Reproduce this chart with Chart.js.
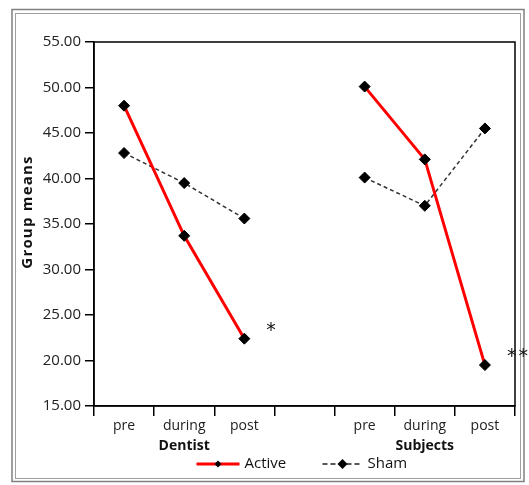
<!DOCTYPE html>
<html>
<head>
<meta charset="utf-8">
<title>Group means</title>
<script src="https://cdn.jsdelivr.net/npm/chart.js@4.4.1/dist/chart.umd.min.js"></script>
<style>
    html, body { margin: 0; padding: 0; background: #fff; }
    #wrap { width: 529px; height: 485px; }
</style>
</head>
<body>
<div id="wrap"><canvas id="chart" width="529" height="485"></canvas></div>
<script>
// values
const categories = ['pre', 'during', 'post', '', 'pre', 'during', 'post'];
const activeMeans = [48.0, 33.7, 22.4, null, 50.1, 42.1, 19.5];
const shamMeans = [42.8, 39.5, 35.6, null, 40.1, 37.0, 45.5];
const groupNames = ['Dentist', 'Subjects'];
const groupCenterIndex = [1, 5];
const sigIndex = [2, 6];
const sigMarks = ['*', '**'];

const FONT = '"Open Sans", "DejaVu Sans", sans-serif';

const extras = {
    id: 'extras',
    beforeDraw(chart) {
        const c = chart.ctx;
        c.save();
        c.fillStyle = '#fff';
        c.fillRect(0, 0, chart.width, chart.height);
        c.restore();
    },
    afterDraw(chart) {
        const c = chart.ctx;
        const a = chart.chartArea;
        const x = chart.scales.x;
        const y = chart.scales.y;
        c.save();

        // double frame
        c.strokeStyle = '#808080';
        c.lineWidth = 1.5;
        c.strokeRect(12, 9.5, 512, 472);
        c.strokeStyle = '#a0a0a0';
        c.lineWidth = 1;
        c.strokeRect(15.5, 13.5, 505, 465);

        // closed plot box
        c.strokeStyle = '#000';
        c.lineWidth = 1.5;
        c.strokeRect(a.left, a.top, a.right - a.left, a.bottom - a.top);

        // y title
        c.fillStyle = '#111';
        c.font = 'bold 15px ' + FONT;
        c.letterSpacing = '1.2px';
        c.textAlign = 'center';
        c.textBaseline = 'middle';
        c.translate(28, 212);
        c.rotate(-Math.PI / 2);
        c.fillText('Group means', 0, 0);
        c.setTransform(1, 0, 0, 1, 0, 0);
        c.letterSpacing = '0px';

        // group labels
        c.font = 'bold 14px ' + FONT;
        groupNames.forEach((g, i) => {
            c.fillText(g, x.getPixelForValue(groupCenterIndex[i]), a.bottom + 40);
        });

        // significance marks beside the active post values
        c.font = '19px "DejaVu Sans", sans-serif';
        c.letterSpacing = '2px';
        c.textAlign = 'left';
        sigIndex.forEach((idx, i) => {
            const px = x.getPixelForValue(idx);
            const py = y.getPixelForValue(activeMeans[idx]);
            c.fillText(sigMarks[i], px + 22, py - 8);
        });
        c.letterSpacing = '0px';

        // legend
        const ly = a.bottom + 58;
        const cx = (a.left + a.right) / 2;
        const items = [
            { x0: cx - 108, x1: cx - 65, color: '#ff0000', width: 3, dash: [], r: 3.5, label: 'Active' },
            { x0: cx + 18, x1: cx + 58, color: '#222', width: 1.3, dash: [5, 3], r: 5, label: 'Sham' }
        ];
        items.forEach(it => {
            c.strokeStyle = it.color;
            c.lineWidth = it.width;
            c.setLineDash(it.dash);
            c.beginPath();
            c.moveTo(it.x0, ly);
            c.lineTo(it.x1, ly);
            c.stroke();
            c.setLineDash([]);
            const mx = (it.x0 + it.x1) / 2;
            c.fillStyle = '#000';
            c.beginPath();
            c.moveTo(mx, ly - it.r);
            c.lineTo(mx + it.r, ly);
            c.lineTo(mx, ly + it.r);
            c.lineTo(mx - it.r, ly);
            c.closePath();
            c.fill();
            c.fillStyle = '#111';
            c.font = '15px ' + FONT;
            c.textAlign = 'left';
            c.fillText(it.label, it.x1 + 5, ly);
        });
        c.restore();
    }
};

new Chart(document.getElementById('chart'), {
    type: 'line',
    data: {
        labels: categories,
        datasets: [{
            label: 'Active',
            data: activeMeans,
            borderColor: '#ff0000',
            borderWidth: 3,
            pointStyle: 'rectRot',
            pointRadius: 5.5,
            pointBackgroundColor: '#000',
            pointBorderColor: '#000',
            pointBorderWidth: 1,
            spanGaps: false,
            tension: 0
        }, {
            label: 'Sham',
            data: shamMeans,
            borderColor: '#333',
            borderWidth: 1.5,
            borderDash: [4, 3],
            pointStyle: 'rectRot',
            pointRadius: 5.5,
            pointBackgroundColor: '#000',
            pointBorderColor: '#000',
            pointBorderWidth: 1,
            spanGaps: false,
            tension: 0
        }]
    },
    options: {
        responsive: false,
        animation: false,
        layout: { padding: { left: 0, top: 42, right: 14, bottom: 0 } },
        plugins: { legend: { display: false }, tooltip: { enabled: false } },
        scales: {
            x: {
                type: 'category',
                offset: true,
                grid: { offset: true, drawOnChartArea: false, drawTicks: true, tickLength: 10, color: '#000', lineWidth: 1.5 },
                border: { display: true, color: '#000', width: 1.5 },
                ticks: { color: '#222', font: { family: FONT, size: 14 }, padding: 2, autoSkip: false, maxRotation: 0 },
                afterFit(s) { s.height = 79; }
            },
            y: {
                min: 15,
                max: 55,
                grid: { drawOnChartArea: false, drawTicks: true, tickLength: 9, color: '#000', lineWidth: 1.5 },
                border: { display: true, color: '#000', width: 1.5 },
                ticks: {
                    stepSize: 5,
                    color: '#222',
                    font: { family: FONT, size: 15 },
                    padding: 4,
                    callback: v => v.toFixed(2)
                },
                afterFit(s) { s.width = 94; }
            }
        }
    },
    plugins: [extras]
});
</script>
</body>
</html>
